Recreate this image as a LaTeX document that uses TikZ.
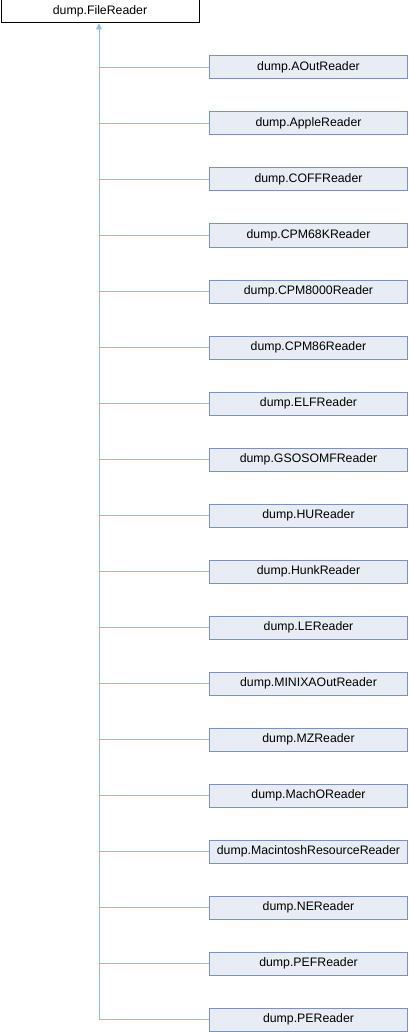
\documentclass[tikz,border=0pt]{standalone}
\usepackage{fontspec}
\setmainfont{Liberation Sans}
\usetikzlibrary{arrows.meta}
\definecolor{boxfill}{HTML}{E8ECF5}
\definecolor{boxline}{HTML}{7B8FC8}
\definecolor{edgecol}{HTML}{86C2E8}
\begin{document}
\begin{tikzpicture}[x=1pt,y=-1pt,
  cls/.style={draw=boxline, fill=boxfill, line width=1pt, minimum width=198pt, minimum height=23pt, inner sep=0pt, anchor=west, font=\fontsize{12.3}{14}\selectfont},
  base/.style={draw=black, fill=white, line width=1pt, minimum width=198pt, minimum height=23pt, inner sep=0pt, anchor=west, font=\fontsize{12.3}{14}\selectfont},
  edge/.style={draw=edgecol, line width=1pt}]
\useasboundingbox (0,0) rectangle (408,1032);
\node[base] (root) at (0.5,11.5) {dump.FileReader};
\coordinate (top) at (99,23);
\foreach \n [count=\i from 0] in {AOutReader,AppleReader,COFFReader,CPM68KReader,CPM8000Reader,CPM86Reader,ELFReader,GSOSOMFReader,HUReader,HunkReader,LEReader,MINIXAOutReader,MZReader,MachOReader,MacintoshResourceReader,NEReader,PEFReader,PEReader}{
  \node[cls] (c\i) at (209,{67.5+56*\i}) {dump.\n};
  \draw[edge] (c\i.west) -- (99,{67.5+56*\i});
}
\draw[edge, -{Triangle[open,length=6pt,width=6pt,fill=edgecol]}] (99,{67.5+56*17}) -- (root.south -| top);
\end{tikzpicture}
\end{document}
